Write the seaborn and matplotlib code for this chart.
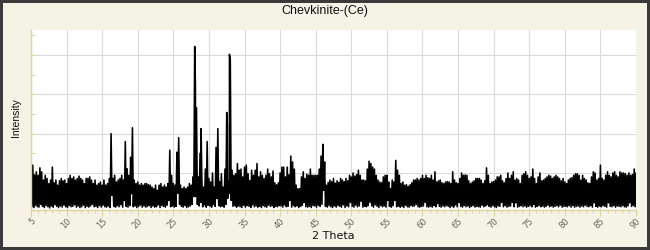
import numpy as np
import pandas as pd
import matplotlib
matplotlib.use("Agg")
import matplotlib.pyplot as plt
import seaborn as sns
from matplotlib.ticker import MultipleLocator

# ---------------- data ----------------
title = "Chevkinite-(Ce)"
x_label = "2 Theta"
y_label = "Intensity"
x_start = 5.0
x_step = 0.25
x_ticks = [5, 10, 15, 20, 25, 30, 35, 40, 45, 50, 55, 60, 65, 70, 75, 80, 85, 90]

# upper envelope of the pattern, one value every 0.25 deg from 5.0 to 90.0
tops = [
    1150, 1200, 950, 1030,   # 5
    940, 1130, 1030, 820,    # 6
    940, 860, 730, 820,      # 7
    1150, 750, 820, 690,     # 8
    800, 860, 800, 820,      # 9
    730, 860, 940, 860,      # 10
    900, 820, 860, 920,      # 11
    860, 820, 730, 860,      # 12
    860, 900, 820, 730,      # 13
    820, 690, 730, 770,      # 14
    690, 820, 690, 730,      # 15
    860, 2000, 860, 940,     # 16
    770, 820, 860, 940,      # 17
    820, 1800, 1110, 940,    # 18
    1400, 2150, 820, 730,    # 19
    770, 690, 730, 690,      # 20
    730, 730, 700, 690,      # 21
    640, 600, 690, 560,      # 22
    690, 730, 640, 690,      # 23
    640, 730, 1580, 940,     # 24
    730, 690, 1530, 1900,    # 25
    690, 600, 640, 600,      # 26
    640, 730, 690, 900,      # 27
    4220, 2660, 900, 1500,   # 28
    860, 640, 1100, 1800,    # 29
    860, 770, 1000, 640,     # 30
    1650, 2130, 780, 980,    # 31
    640, 1100, 2540, 800,    # 32
    3870, 1070, 940, 980,    # 33
    1240, 1070, 1100, 900,   # 34
    1150, 1200, 980, 810,    # 35
    1070, 940, 1070, 1240,   # 36
    900, 1030, 940, 860,     # 37
    940, 1100, 980, 900,     # 38
    1050, 750, 700, 750,     # 39
    1000, 1150, 1150, 900,   # 40
    1150, 950, 1430, 1280,   # 41
    1100, 690, 600, 600,     # 42
    900, 1030, 860, 970,     # 43
    940, 1100, 940, 940,     # 44
    940, 940, 1100, 1430,    # 45
    1730, 1280, 690, 760,    # 46
    820, 780, 860, 740,      # 47
    800, 760, 860, 820,      # 48
    780, 860, 800, 940,      # 49
    900, 1000, 920, 960,     # 50
    1070, 940, 820, 820,     # 51
    800, 1100, 1300, 1240,   # 52
    1150, 1100, 940, 820,    # 53
    770, 750, 900, 940,      # 54
    940, 770, 600, 820,      # 55
    770, 1320, 1070, 940,    # 56
    730, 770, 690, 700,      # 57
    660, 700, 750, 820,      # 58
    820, 860, 820, 860,      # 59
    940, 860, 940, 880,      # 60
    860, 940, 820, 1030,     # 61
    770, 800, 820, 750,      # 62
    730, 770, 780, 770,      # 63
    730, 1030, 820, 750,     # 64
    730, 860, 1000, 940,     # 65
    950, 940, 800, 730,      # 66
    770, 800, 860, 860,      # 67
    860, 820, 730, 800,      # 68
    1130, 940, 730, 770,     # 69
    780, 820, 900, 900,      # 70
    940, 800, 750, 860,      # 71
    1000, 860, 940, 1030,    # 72
    820, 860, 820, 730,      # 73
    940, 980, 1030, 940,     # 74
    860, 900, 1100, 860,     # 75
    730, 900, 1000, 800,     # 76
    820, 860, 900, 940,      # 77
    920, 860, 900, 940,      # 78
    900, 860, 800, 860,      # 79
    770, 730, 820, 860,      # 80
    880, 940, 980, 980,      # 81
    940, 820, 940, 860,      # 82
    820, 750, 730, 900,      # 83
    1030, 1000, 820, 860,    # 84
    1200, 860, 820, 940,     # 85
    1030, 940, 900, 1000,    # 86
    1030, 940, 900, 1030,    # 87
    1000, 1000, 980, 940,    # 88
    1000, 940, 960, 1100,    # 89
    1000,                    # 90
]

# lower envelope, one value between each pair of tops (x.125, x.375, ...)
bottoms = [
    150, 120, 180, 140,  130, 200, 150, 120,  170, 140, 110, 160,  130, 190, 150, 120,   # 5-8
    160, 130, 180, 140,  120, 170, 140, 150,  190, 130, 160, 120,  140, 180, 120, 150,   # 9-12
    130, 160, 200, 140,  150, 120, 170, 130,  180, 140, 130, 160,  120, 430, 150, 130,   # 13-16
    170, 140, 190, 130,  300, 150, 130, 170,  470, 140, 160, 120,  150, 180, 130, 160,   # 17-20
    130, 150, 170, 120,  160, 130, 140, 190,  120, 170, 150, 130,  180, 300, 140, 160,   # 21-24
    130, 150, 480, 200,  150, 130, 170, 120,  140, 160, 200, 400,  400, 200, 160, 250,   # 25-28
    140, 190, 130, 180,  160, 130, 200, 150,  350, 170, 140, 160,  130, 200, 350, 480,   # 29-32
    300, 150, 170, 130,  160, 140, 120, 180,  130, 170, 150, 120,  190, 140, 160, 130,   # 33-36
    150, 120, 170, 140,  130, 180, 150, 160,  120, 150, 140, 170,  160, 130, 190, 140,   # 37-40
    150, 300, 130, 170,  140, 160, 120, 150,  180, 250, 140, 130,  150, 120, 170, 160,   # 41-44
    130, 180, 150, 200,  560, 150, 130, 170,  140, 120, 160, 130,  170, 150, 130, 190,   # 45-48
    120, 160, 140, 250,  150, 130, 180, 140,  160, 280, 130, 150,  140, 170, 250, 160,   # 49-52
    130, 190, 150, 120,  170, 140, 160, 130,  300, 150, 130, 170,  300, 140, 160, 130,   # 53-56
    150, 120, 180, 140,  130, 170, 150, 160,  200, 140, 130, 150,  160, 250, 140, 130,   # 57-60
    150, 130, 170, 140,  220, 150, 130, 160,  140, 170, 150, 120,  160, 130, 190, 140,   # 61-64
    250, 150, 130, 170,  140, 160, 120, 150,  170, 130, 150, 140,  130, 180, 140, 160,   # 65-68
    200, 150, 130, 170,  140, 120, 160, 150,  250, 140, 170, 130,  150, 160, 250, 140,   # 69-72
    240, 130, 150, 170,  140, 160, 130, 150,  170, 140, 200, 130,  150, 170, 140, 160,   # 73-76
    130, 150, 180, 140,  160, 130, 150, 170,  140, 180, 130, 150,  150, 140, 170, 130,   # 77-80
    170, 130, 150, 160,  130, 160, 140, 180,  150, 140, 170, 130,  240, 150, 130, 160,   # 81-84
    140, 170, 150, 130,  240, 150, 140, 170,  130, 160, 150, 140,  170, 140, 130, 160,   # 85-88
    240, 150, 170, 140,                                                                  # 89
]

# extra narrow reflections between the sampled positions
peak_two_theta = [28.10, 28.90, 32.58, 32.88]
peak_intensity = [3260, 2130, 2230, 4020]

# ---------------- build the trace ----------------
n = min(len(tops), len(bottoms) + 1)
top_x = x_start + x_step * np.arange(n)
bottom_x = top_x[:-1] + x_step / 2.0
df = pd.DataFrame({
    "two_theta": np.concatenate([top_x, bottom_x, peak_two_theta]),
    "intensity": np.concatenate([tops[:n], bottoms[:n - 1], peak_intensity]),
}).sort_values("two_theta").reset_index(drop=True)

# ---------------- style ----------------
sns.set_theme(style="white")
plt.rcParams["font.family"] = ["DejaVu Sans"]

bg = "#f5f2e6"
axis_col = "#ddd5a0"
fig = plt.figure(figsize=(6.5, 2.5), dpi=100, facecolor=bg,
                 edgecolor="#3a3a3a", linewidth=3)
W, H = 650.0, 250.0
left, right, top, bottom = 31, 636, 30, 209.5
ax = fig.add_axes([left / W, 1 - bottom / H, (right - left) / W, (bottom - top) / H])
ax.set_facecolor("white")

sns.lineplot(data=df, x="two_theta", y="intensity", ax=ax, color="black",
             linewidth=1.15, estimator=None, sort=True)

ax.set_xlim(5, 90)
ax.set_ylim(70, 4640)
ax.xaxis.set_major_locator(MultipleLocator(5))
ax.xaxis.set_minor_locator(MultipleLocator(1))
ax.yaxis.set_major_locator(MultipleLocator(1000))
ax.yaxis.set_minor_locator(MultipleLocator(500))
ax.set_xticks(x_ticks)
ax.set_xticklabels([str(t) for t in x_ticks])
ax.grid(True, which="major", color="#dadada", linewidth=0.8)
ax.set_axisbelow(True)

for s in ["top", "right"]:
    ax.spines[s].set_visible(False)
for s in ["left", "bottom"]:
    ax.spines[s].set_color(axis_col)
    ax.spines[s].set_linewidth(1.0)

ax.tick_params(axis="x", which="major", direction="out", length=4, width=0.8,
               color=axis_col, labelsize=6, labelcolor="#666666", pad=1, bottom=True)
ax.tick_params(axis="x", which="minor", direction="out", length=2.5, width=0.8,
               color=axis_col, bottom=True)
ax.tick_params(axis="y", which="both", direction="in", length=3, width=0.8,
               color=axis_col, left=True, labelleft=False)
for lbl in ax.get_xticklabels():
    lbl.set_rotation(45)
    lbl.set_ha("right")
    lbl.set_va("top")
    lbl.set_rotation_mode("anchor")

ax.set_xlabel("")
ax.set_ylabel("")
fig.text(0.5, 1 - 11 / H, title, ha="center", va="center", fontsize=9,
         family=["Liberation Sans", "DejaVu Sans"], color="#111111")
fig.text((left + right) / 2 / W, 1 - 236 / H, x_label, ha="center", va="center",
         fontsize=8, family=["DejaVu Sans"], color="#111111")
fig.text(16 / W, 1 - 118 / H, y_label, ha="center", va="center", rotation=90,
         fontsize=7.5, family=["Liberation Sans", "DejaVu Sans"], color="#111111")

fig.savefig("out.png", dpi=100, facecolor=fig.get_facecolor(),
            edgecolor=fig.get_edgecolor())
